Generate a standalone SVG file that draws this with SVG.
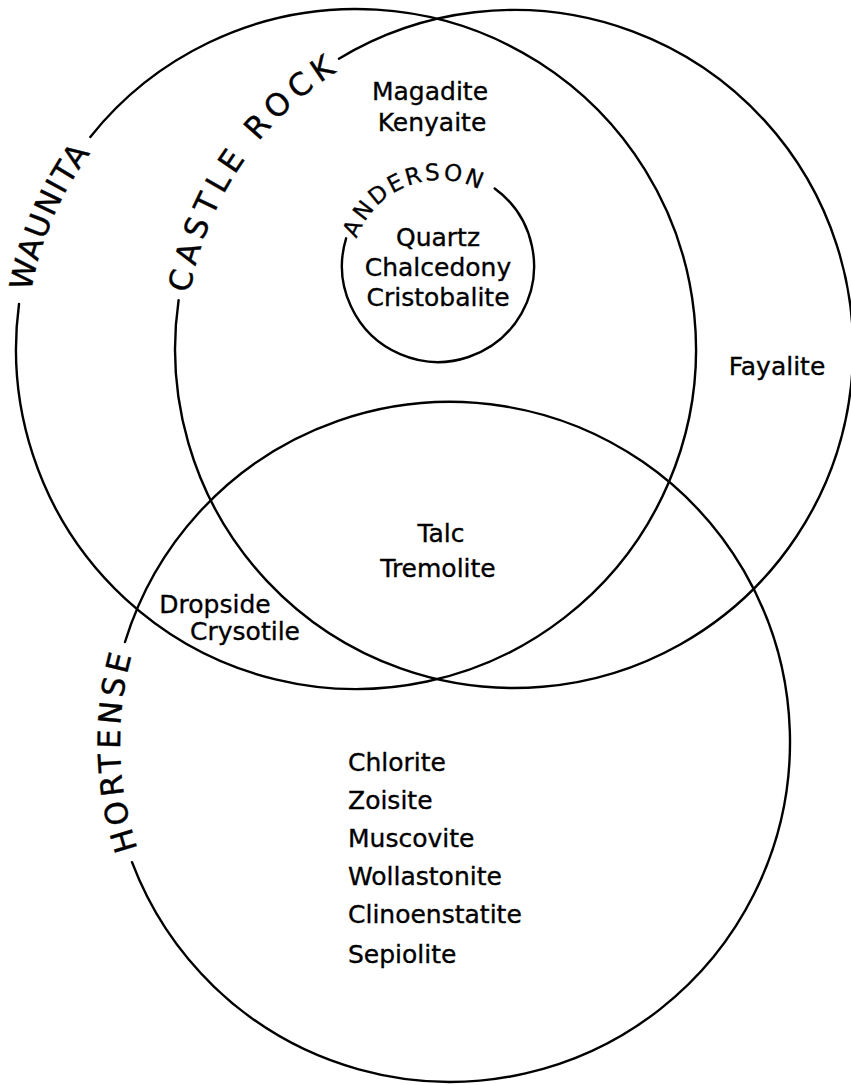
<svg xmlns="http://www.w3.org/2000/svg" xmlns:xlink="http://www.w3.org/1999/xlink" width="851" height="1085" viewBox="0 0 851 1085">
<style>
.ring{fill:none;stroke:#000;stroke-width:2.4;stroke-linecap:round}
.lbl{font-family:"DejaVu Sans","Liberation Sans",sans-serif;font-size:25px;fill:#000;stroke:#000;stroke-width:0.35}
.mid{text-anchor:middle}
.big{font-family:"DejaVu Sans","Liberation Sans",sans-serif;font-size:31px;fill:#000;text-anchor:middle;stroke:#000;stroke-width:0.4}
.sml{font-family:"DejaVu Sans","Liberation Sans",sans-serif;font-size:23px;fill:#000;text-anchor:middle;stroke:#000;stroke-width:0.3}
</style>
<defs>
<path id="pW" d="M 28.2 387.2 A 330 330 0 0 1 158.9 84.3"/>
<path id="pC" d="M 186.8 383.1 A 329 329 0 0 1 423.6 32.7"/>
<path id="pH" d="M 184.9 938.5 A 330 330 0 0 1 174.7 560.1"/>
<path id="pA" d="M 351.8 267.4 A 88 88 0 0 1 504.5 208.4"/>
</defs>
<rect width="851" height="1085" fill="#fff"/>
<g id="connectors"/>
<g id="waunita">
<path class="ring" d="M 90.3 136.9 A 340 340 0 1 1 19.0 304.0"/>
<text class="big" letter-spacing="1.5"><textPath xlink:href="#pW" href="#pW" startOffset="50%">WAUNITA</textPath></text>
</g>
<g id="castle-rock">
<path class="ring" d="M 338.9 58.7 A 339 339 0 1 1 178.6 300.1"/>
<text class="big" letter-spacing="5.7"><textPath xlink:href="#pC" href="#pC" startOffset="50%">CASTLE ROCK</textPath></text>
<text class="lbl mid" x="430" y="100">Magadite</text>
<text class="lbl mid" x="432" y="131">Kenyaite</text>
<text class="lbl mid" x="777" y="375">Fayalite</text>
</g>
<g id="anderson">
<path class="ring" d="M 494.7 188.5 A 96 96 0 1 1 346.1 238.3"/>
<text class="sml" letter-spacing="2.6"><textPath xlink:href="#pA" href="#pA" startOffset="50%">ANDERSON</textPath></text>
<text class="lbl mid" x="438" y="246">Quartz</text>
<text class="lbl mid" x="438" y="276">Chalcedony</text>
<text class="lbl mid" x="438" y="306">Cristobalite</text>
</g>
<g id="hortense">
<path class="ring" d="M 125 642 A 340 340 0 1 1 132 862.2"/>
<text class="big" font-size="30" letter-spacing="4"><textPath xlink:href="#pH" href="#pH" startOffset="50%">HORTENSE</textPath></text>
<text class="lbl mid" x="441" y="542">Talc</text>
<text class="lbl mid" x="438" y="577">Tremolite</text>
<text class="lbl mid" x="215" y="613">Dropside</text>
<text class="lbl mid" x="245" y="640">Crysotile</text>
<text class="lbl" x="348" y="771">Chlorite</text>
<text class="lbl" x="348" y="809">Zoisite</text>
<text class="lbl" x="348" y="847">Muscovite</text>
<text class="lbl" x="348" y="885">Wollastonite</text>
<text class="lbl" x="348" y="923">Clinoenstatite</text>
<text class="lbl" x="348" y="963">Sepiolite</text>
</g>
</svg>
